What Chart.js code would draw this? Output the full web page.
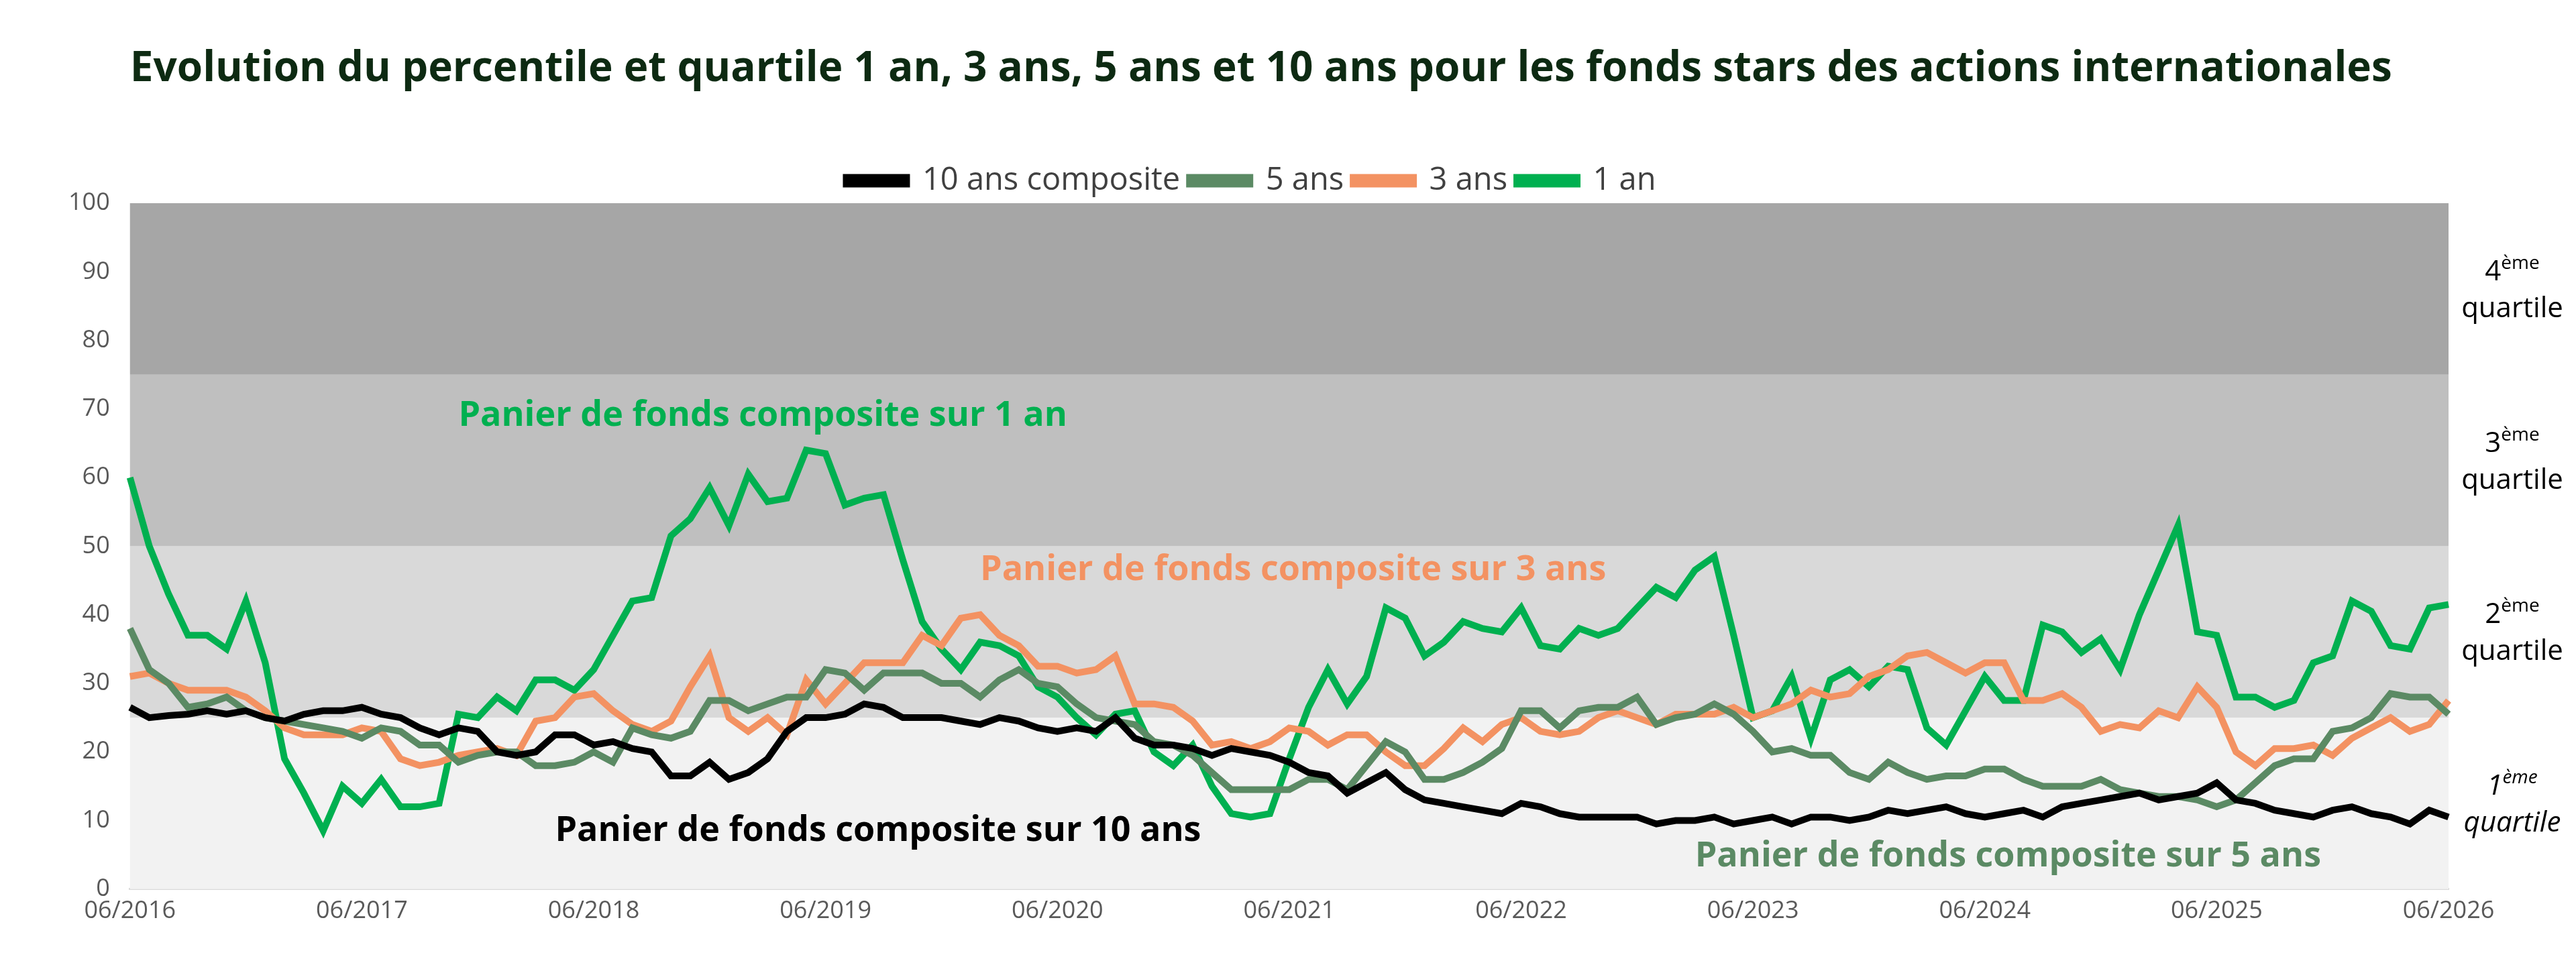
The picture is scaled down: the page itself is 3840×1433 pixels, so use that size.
<!DOCTYPE html>
<html><head><meta charset="utf-8">
<script src="https://cdn.jsdelivr.net/npm/chart.js@4/dist/chart.umd.min.js"></script>
<style>html,body{margin:0;padding:0;background:#fff}canvas{display:block}</style>
</head><body><canvas id="c" width="3840" height="1433"></canvas>
<script>
const months=[];
for(let y=2016;y<=2026;y++){for(let m=1;m<=12;m++){if((y===2016&&m<6)||(y===2026&&m>6))continue;months.push(String(m).padStart(2,'0')+'/'+y);}}
const s10=[26.5,25,25.3,25.5,26,25.5,26,
25,24.5,25.5,26,26,26.5,25.5,25,23.5,22.5,23.5,23,
20,19.5,20,22.5,22.5,21,21.5,20.5,20,16.5,16.5,18.5,
16,17,19,23,25,25,25.5,27,26.5,25,25,25,
24.5,24,25,24.5,23.5,23,23.5,23,25,22,21,21,
20.5,19.5,20.5,20,19.5,18.5,17,16.5,14,15.5,17,14.5,
13,12.5,12,11.5,11,12.5,12,11,10.5,10.5,10.5,10.5,
9.5,10,10,10.5,9.5,10,10.5,9.5,10.5,10.5,10,10.5,
11.5,11,11.5,12,11,10.5,11,11.5,10.5,12,12.5,13,
13.5,14,13,13.5,14,15.5,13,12.5,11.5,11,10.5,11.5,
12,11,10.5,9.5,11.5,10.5];
const s5=[38,32,30,26.5,27,28,26,
25,24.5,24,23.5,23,22,23.5,23,21,21,18.5,19.5,
20,20,18,18,18.5,20,18.5,23.5,22.5,22,23,27.5,
27.5,26,27,28,28,32,31.5,29,31.5,31.5,31.5,30,
30,28,30.5,32,30,29.5,27,25,24.5,24,21.5,21,
19.5,17,14.5,14.5,14.5,14.5,16,16,14.5,18,21.5,20,
16,16,17,18.5,20.5,26,26,23.5,26,26.5,26.5,28,
24,25,25.5,27,25.5,23,20,20.5,19.5,19.5,17,16,
18.5,17,16,16.5,16.5,17.5,17.5,16,15,15,15,16,
14.5,14,13.5,13.5,13,12,13,15.5,18,19,19,23,
23.5,25,28.5,28,28,25.5];
const s3=[31,31.5,30,29,29,29,28,
26,23.5,22.5,22.5,22.5,23.5,23,19,18,18.5,19.5,20,
20.5,19.5,24.5,25,28,28.5,26,24,23,24.5,29.5,34,
25,23,25,22.5,30.5,27,30,33,33,33,37,35.5,
39.5,40,37,35.5,32.5,32.5,31.5,32,34,27,27,26.5,
24.5,21,21.5,20.5,21.5,23.5,23,21,22.5,22.5,20,18,
18,20.5,23.5,21.5,24,25,23,22.5,23,25,26,25,
24,25.5,25.5,25.5,26.5,25,26,27,29,28,28.5,31,
32,34,34.5,33,31.5,33,33,27.5,27.5,28.5,26.5,23,
24,23.5,26,25,29.5,26.5,20,18,20.5,20.5,21,19.5,
22,23.5,25,23,24,27.5];
const s1=[60,50,43,37,37,35,42,
33,19,14,8.5,15,12.5,16,12,12,12.5,25.5,25,
28,26,30.5,30.5,29,32,37,42,42.5,51.5,54,58.5,
53,60.5,56.5,57,64,63.5,56,57,57.5,48,39,35,
32,36,35.5,34,29.5,28,25,22.5,25.5,26,20,18,
21,15,11,10.5,11,19,26.5,32,27,31,41,39.5,
34,36,39,38,37.5,41,35.5,35,38,37,38,41,
44,42.5,46.5,48.5,37,25,26,31,22,30.5,32,29.5,
32.5,32,23.5,21,26,31,27.5,27.5,38.5,37.5,34.5,36.5,
32,40,46.5,53,37.5,37,28,28,26.5,27.5,33,34,
42,40.5,35.5,35,41,41.5];
const seriesNames=['10 ans composite','5 ans','3 ans','1 an'];
const seriesColors=['#000000','#5b8a64','#f39262','#00b050'];
const yTicks=[0,10,20,30,40,50,60,70,80,90,100];
const bands=[[0,25,'#f2f2f2'],[25,50,'#d9d9d9'],[50,75,'#bfbfbf'],[75,100,'#a6a6a6']];
const notes=[['Panier de fonds composite sur 1 an','11/2017',69,'#00b050'],
['Panier de fonds composite sur 3 ans','02/2020',46.5,'#f39262'],
['Panier de fonds composite sur 10 ans','04/2018',8.5,'#000000'],
['Panier de fonds composite sur 5 ans','03/2023',4.8,'#5b8a64']];
const quart=[['4','ème','quartile',87,false],['3','ème','quartile',62,false],['2','ème','quartile',37,false],['1','ème','quartile',12,true]];
const titleText='Evolution du percentile et quartile 1 an, 3 ans, 5 ans et 10 ans pour les fonds stars des actions internationales';
const F='"Open Sans", sans-serif';
const bg={id:'bg',beforeDatasetsDraw(ch){const {ctx,chartArea:a,scales:{y}}=ch;ctx.save();
for(const b of bands){ctx.fillStyle=b[2];ctx.fillRect(a.left,y.getPixelForValue(b[1]),a.right-a.left,y.getPixelForValue(b[0])-y.getPixelForValue(b[1]));}ctx.restore();},
afterDraw(ch){const {ctx,chartArea:a,scales:{x,y}}=ch;ctx.save();
ctx.textBaseline='middle';ctx.fillStyle='#0d2a12';ctx.font='bold 62px '+F;ctx.fillText(titleText,a.left,103);
ctx.font='bold 52px '+F;
for(const n of notes){ctx.fillStyle=n[3];ctx.fillText(n[0],x.getPixelForValue(months.indexOf(n[1])),y.getPixelForValue(n[2]));}
ctx.fillStyle='#000';
const cx=a.right+(ch.width-a.right)/2;
for(const q of quart){const yy=y.getPixelForValue(q[3]);const it=q[4]?'italic ':'';
ctx.font=it+'42px '+F;const w1=ctx.measureText(q[0]).width;ctx.font=it+'28px '+F;const w2=ctx.measureText(q[1]).width;
const sx=cx-(w1+w2)/2;ctx.textAlign='left';ctx.font=it+'42px '+F;ctx.fillText(q[0],sx,yy-30);ctx.font=it+'28px '+F;ctx.fillText(q[1],sx+w1,yy-43);
ctx.textAlign='center';ctx.font=it+'42px '+F;ctx.fillText(q[2],cx,yy+25);}
ctx.restore();}};
new Chart(document.getElementById('c'),{type:'line',
data:{labels:months,datasets:[s10,s5,s3,s1].map((d,i)=>({label:seriesNames[i],data:d,borderColor:seriesColors[i],backgroundColor:seriesColors[i],borderWidth:10,pointRadius:0,tension:0}))},
options:{responsive:false,animation:false,
layout:{padding:{left:80,right:190,top:232,bottom:50}},
plugins:{title:{display:false},
legend:{labels:{usePointStyle:false,boxWidth:90,boxHeight:10,color:'#404040',font:{family:F,size:47},padding:14},
onClick:null},tooltip:{enabled:false}},
scales:{x:{grid:{display:false},border:{color:'#d9d9d9',width:3},ticks:{autoSkip:false,maxRotation:0,color:'#595959',font:{family:F,size:36},callback:function(v){const l=months[v];return l.startsWith('06/')?l:'';}}},
y:{min:0,max:100,afterBuildTicks(s){s.ticks=yTicks.map(v=>({value:v}));},grid:{display:false},border:{display:false},ticks:{color:'#595959',font:{family:F,size:36},padding:22}}}},
plugins:[bg]});
</script></body></html>
